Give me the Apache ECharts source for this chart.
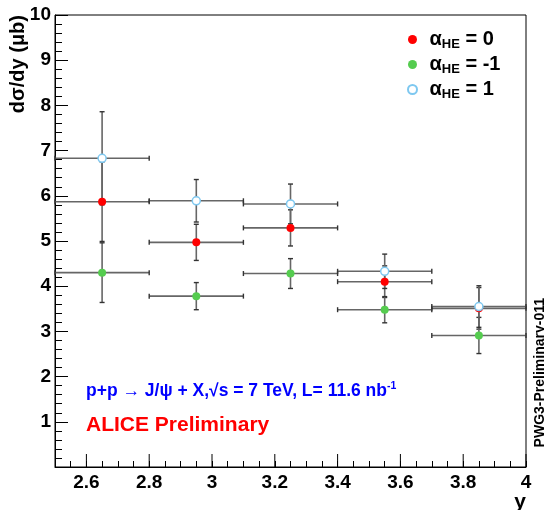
<!DOCTYPE html>
<html>
<head>
<meta charset="utf-8">
<script src="https://cdn.jsdelivr.net/npm/echarts@6/dist/echarts.min.js"></script>
<style>
html,body{margin:0;padding:0;background:#fff;}
#chart{width:544px;height:510px;}
</style>
</head>
<body>
<div id="chart"></div>
<script>
// ---- data ----
const xCenters = [2.65, 2.95, 3.25, 3.55, 3.85];
const xHalfWidths = [0.15, 0.15, 0.15, 0.15, 0.15];
const alphaZero = [5.87, 4.97, 5.29, 4.10, 3.51];
const alphaZeroErr = [0.88, 0.40, 0.40, 0.35, 0.46];
const alphaMinusOne = [4.30, 3.78, 4.28, 3.48, 2.91];
const alphaMinusOneErr = [0.66, 0.30, 0.33, 0.29, 0.40];
const alphaPlusOne = [6.83, 5.89, 5.82, 4.33, 3.55];
const alphaPlusOneErr = [1.03, 0.47, 0.44, 0.38, 0.46];
const seriesNames = ['α_HE = 0', 'α_HE = -1', 'α_HE = 1'];
const legendValues = ['0', '-1', '1'];
const xTickLabels = [2.6, 2.8, 3.0, 3.2, 3.4, 3.6, 3.8, 4.0];

const FONT = '"Liberation Sans", Arial, Helvetica, sans-serif';

function errData(ys, es) {
  return xCenters.map((x, i) => [x, ys[i], xHalfWidths[i], es[i]]);
}
function ptData(ys) {
  return xCenters.map((x, i) => [x, ys[i]]);
}

function renderErr(params, api) {
  const x = api.value(0), y = api.value(1), xe = api.value(2), ye = api.value(3);
  const l = api.coord([x - xe, y]);
  const r = api.coord([x + xe, y]);
  const t = api.coord([x, y + ye]);
  const b = api.coord([x, y - ye]);
  const cap = 2.5;
  const st = { stroke: '#666', lineWidth: 1.6 };
  const cs = { stroke: '#333', lineWidth: 1.4 };
  return {
    type: 'group',
    children: [
      { type: 'line', shape: { x1: l[0], y1: l[1], x2: r[0], y2: r[1] }, style: st },
      { type: 'line', shape: { x1: t[0], y1: t[1], x2: b[0], y2: b[1] }, style: st },
      { type: 'line', shape: { x1: t[0] - cap, y1: t[1], x2: t[0] + cap, y2: t[1] }, style: cs },
      { type: 'line', shape: { x1: b[0] - cap, y1: b[1], x2: b[0] + cap, y2: b[1] }, style: cs },
      { type: 'line', shape: { x1: l[0], y1: l[1] - cap, x2: l[0], y2: l[1] + cap }, style: cs },
      { type: 'line', shape: { x1: r[0], y1: r[1] - cap, x2: r[0], y2: r[1] + cap }, style: cs }
    ]
  };
}

// major x ticks, placed through the x scale
function renderMajorTick(params, api) {
  const v = api.value(0);
  const p = api.coord([v, 0]);
  return { type: 'line', shape: { x1: p[0], y1: p[1], x2: p[0], y2: p[1] - 13 }, style: { stroke: '#000', lineWidth: 1 } };
}

const chart = echarts.init(document.getElementById('chart'), null, { renderer: 'canvas' });

const legendMap = {};
seriesNames.forEach((n, i) => { legendMap[n] = '{a|α}{s|HE}{a| = ' + legendValues[i] + '}'; });

const option = {
  animation: false,
  backgroundColor: '#fff',
  grid: { left: 55, right: 18, top: 15, bottom: 43, show: true, borderColor: '#000', borderWidth: 1, containLabel: false },
  xAxis: {
    type: 'value', min: 2.5, max: 4, interval: 0.05,
    axisLine: { show: true, onZero: false, lineStyle: { color: '#000', width: 1 } },
    axisTick: { show: true, inside: true, length: 6, lineStyle: { color: '#000' } },
    axisLabel: {
      show: true, customValues: xTickLabels, margin: 6,
      fontFamily: FONT, fontWeight: 'bold', fontSize: 19, color: '#000',
      formatter: v => String(Math.round(v * 10) / 10)
    },
    splitLine: { show: false }
  },
  yAxis: {
    type: 'value', min: 0, max: 10, interval: 1,
    axisLine: { show: true, onZero: false, lineStyle: { color: '#000', width: 1 } },
    axisTick: { show: true, inside: true, length: 13, lineStyle: { color: '#000' } },
    minorTick: { show: true, splitNumber: 5, length: 7, lineStyle: { color: '#000' } },
    axisLabel: {
      margin: 4, fontFamily: FONT, fontWeight: 'bold', fontSize: 19, color: '#000',
      formatter: v => (v === 0 ? '' : String(v))
    },
    splitLine: { show: false },
    minorSplitLine: { show: false }
  },
  legend: {
    data: seriesNames,
    orient: 'vertical',
    left: 402, top: 23,
    itemWidth: 10, itemHeight: 9, itemGap: 2,
    icon: 'circle',
    formatter: n => legendMap[n],
    textStyle: {
      padding: [0, 0, 0, 7],
      rich: {
        a: { fontFamily: FONT, fontWeight: 'bold', fontSize: 20, color: '#000', lineHeight: 20, verticalAlign: 'middle' },
        s: { fontFamily: FONT, fontWeight: 'bold', fontSize: 13, color: '#000', lineHeight: 13, padding: [10, 0, 0, 0], verticalAlign: 'middle' }
      }
    }
  },
  graphic: [
    {
      type: 'text', x: 18, y: 15, rotation: Math.PI / 2,
      style: { text: 'dσ/dy (μb)', align: 'right', verticalAlign: 'middle', fontFamily: FONT, fontWeight: 'bold', fontSize: 20, fill: '#000' }
    },
    {
      type: 'text', x: 526, y: 513,
      style: { text: 'y', align: 'right', verticalAlign: 'bottom', fontFamily: FONT, fontWeight: 'bold', fontSize: 21, fill: '#000' }
    },
    {
      type: 'text', x: 540, y: 298, rotation: Math.PI / 2,
      style: { text: 'PWG3-Preliminary-011', align: 'right', verticalAlign: 'middle', fontFamily: FONT, fontWeight: 'bold', fontSize: 14, fill: '#000' }
    },
    {
      type: 'text', x: 86, y: 391,
      style: {
        text: '{t|p+p → J/ψ + X,√s = 7 TeV, L= 11.6 nb}{u|-1}',
        align: 'left', verticalAlign: 'middle',
        rich: {
          t: { fontFamily: FONT, fontWeight: 'bold', fontSize: 17.5, fill: '#0000ff', lineHeight: 19 },
          u: { fontFamily: FONT, fontWeight: 'bold', fontSize: 10.5, fill: '#0000ff', lineHeight: 10, padding: [0, 0, 10, 0] }
        }
      }
    },
    {
      type: 'text', x: 86, y: 425,
      style: { text: 'ALICE Preliminary', align: 'left', verticalAlign: 'middle', fontFamily: FONT, fontWeight: 'bold', fontSize: 21, fill: '#ff0000' }
    }
  ],
  series: [
    { type: 'custom', name: 'majorTicks', renderItem: renderMajorTick, data: xTickLabels.map(v => [v]), silent: true, clip: false, z: 5 },
    { type: 'custom', name: 'err0', renderItem: renderErr, data: errData(alphaZero, alphaZeroErr), silent: true, z: 1 },
    { type: 'custom', name: 'errM1', renderItem: renderErr, data: errData(alphaMinusOne, alphaMinusOneErr), silent: true, z: 1 },
    { type: 'custom', name: 'errP1', renderItem: renderErr, data: errData(alphaPlusOne, alphaPlusOneErr), silent: true, z: 1 },
    { type: 'scatter', name: seriesNames[0], data: ptData(alphaZero), symbol: 'circle', symbolSize: 8, itemStyle: { color: '#ff0000', opacity: 1 }, z: 3 },
    { type: 'scatter', name: seriesNames[1], data: ptData(alphaMinusOne), symbol: 'circle', symbolSize: 8, itemStyle: { color: '#55cc4f', opacity: 1 }, z: 3 },
    { type: 'scatter', name: seriesNames[2], data: ptData(alphaPlusOne), symbol: 'circle', symbolSize: 8, itemStyle: { color: '#ffffff', borderColor: '#7ec8f0', borderWidth: 1.5, opacity: 1 }, z: 4 }
  ]
};
chart.setOption(option);
</script>
</body>
</html>
